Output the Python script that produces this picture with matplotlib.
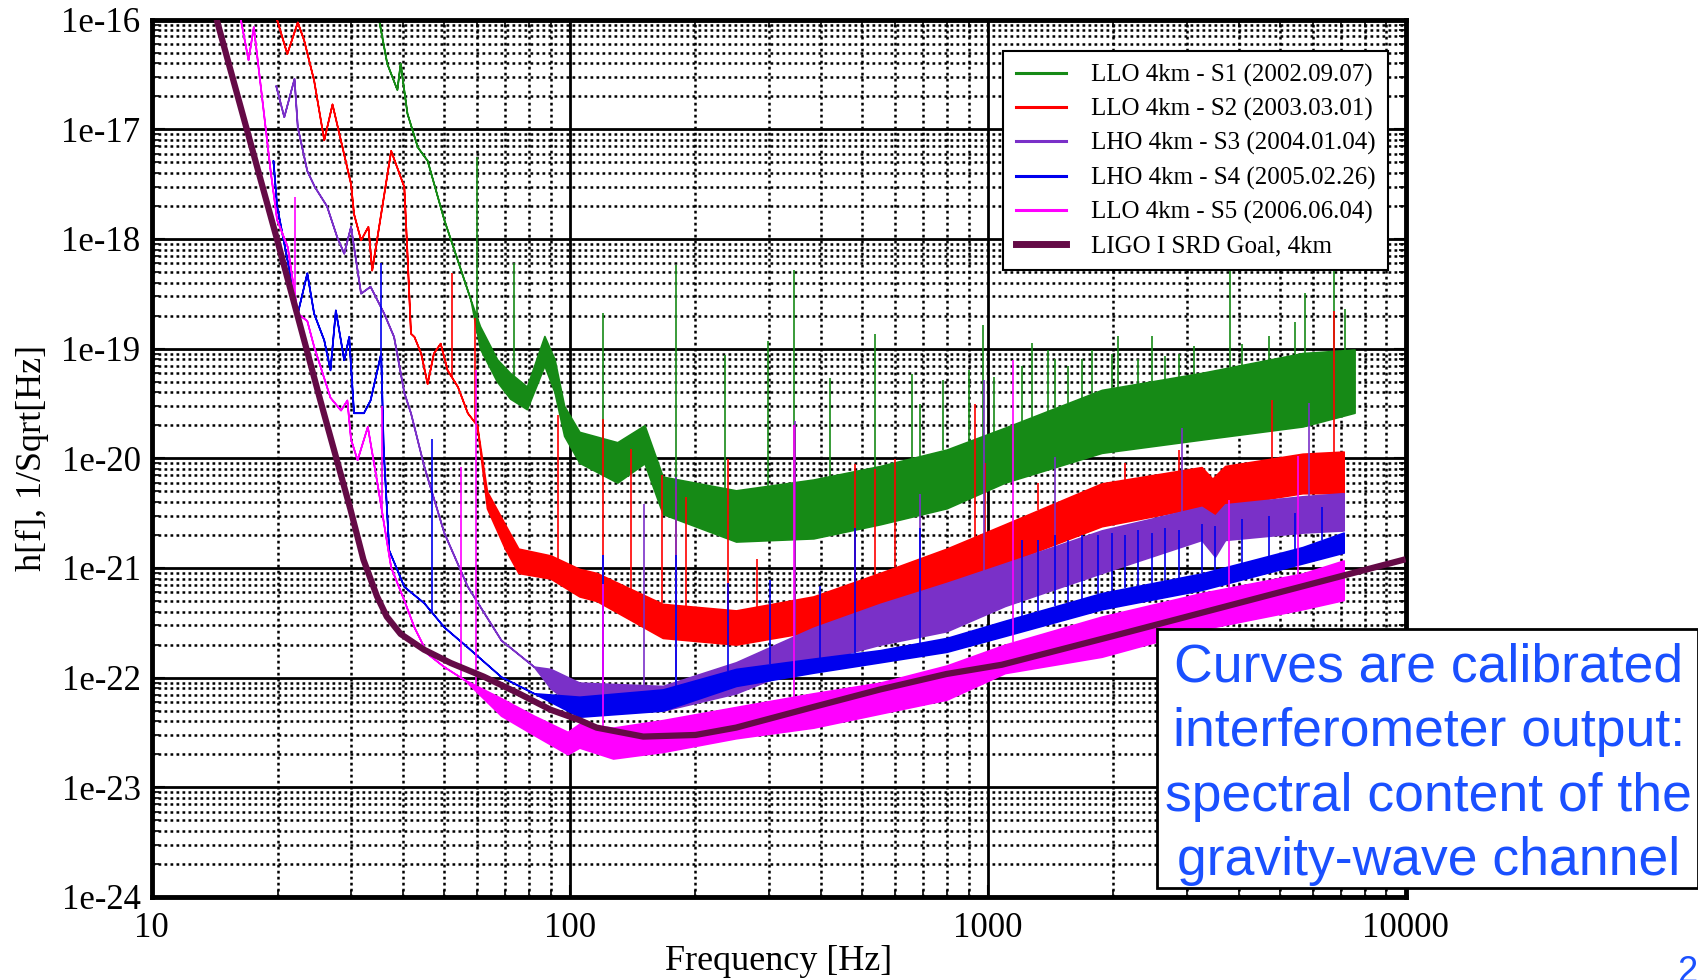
import numpy as np
import matplotlib
matplotlib.use("Agg")
import matplotlib.pyplot as plt
from matplotlib.lines import Line2D
from matplotlib.patches import Rectangle
from matplotlib.ticker import FixedLocator, FixedFormatter, LogLocator, NullFormatter

# ---- data (frequency in Hz, strain in 1/sqrt(Hz)) ----
# each run: frequency, lower and upper edge of the noise band (equal where the trace is a thin line)
s1_f = [34.9, 36.5, 38.6, 39.3, 40.8, 43.2, 45.6, 50, 57.9, 61, 67, 72, 79, 87, 92, 97, 105.5, 130, 151,
        167, 250, 383, 553, 798, 1100, 1875, 3250, 5670, 7550]
s1_hi = [1.0e-16, 4.0e-17, 2.3e-17, 4.0e-17, 1.4e-17, 6.9e-18, 5.2e-18, 1.5e-18, 2.8e-19, 1.6e-19, 8e-20, 6e-20,
         4.5e-20, 1.3e-19, 8e-20, 3e-20, 1.74e-20, 1.4e-20, 2.0e-20, 6.8e-21, 5.1e-21, 6.4e-21, 8.5e-21, 1.2e-20,
         1.9e-20, 4.2e-20, 6.0e-20, 9.1e-20, 9.8e-20]
s1_lo = [1.0e-16, 4.0e-17, 2.3e-17, 4.0e-17, 1.4e-17, 6.9e-18, 5.2e-18, 1.5e-18, 2.8e-19, 1.0e-19, 5e-20, 3.5e-20,
         2.8e-20, 7e-20, 4e-20, 1.6e-20, 9.1e-21, 6e-21, 9e-21, 3.1e-21, 1.74e-21, 1.86e-21, 2.5e-21, 3.5e-21,
         6e-21, 1.12e-20, 1.48e-20, 1.95e-20, 2.6e-20]
s1_spike_f = [60, 73.5, 120, 180, 235, 298, 344, 419, 538, 659, 690, 784, 900, 974, 1034, 1206, 1274, 1397, 1449,
              1560, 1680, 1774, 1982, 2054, 2296, 2474, 2661, 2864, 3110, 3795, 4061, 4710, 5450, 5755, 6750, 7180]
s1_spike_top = [5.6e-18, 6.0e-19, 2.1e-19, 5.8e-19, 8.8e-20, 1.18e-19, 5.2e-19, 5.4e-20, 1.36e-19, 5.9e-20, 3.1e-20,
                5.2e-20, 6.4e-20, 1.63e-19, 5.5e-20, 7e-20, 1.12e-19, 9.7e-20, 8e-20, 7e-20, 8e-20, 9.7e-20, 9e-20,
                1.29e-19, 8e-20, 1.29e-19, 8.5e-20, 9e-20, 1.05e-19, 5.2e-19, 1.1e-19, 1.3e-19, 1.76e-19, 3.2e-19,
                5.2e-19, 2.3e-19]

s2_f = [19.9, 21.05, 22.3, 23.1, 24.4, 25.8, 27.0, 29.9, 30.4, 31.6, 32.9, 33.6, 37.3, 40.1, 40.8, 41.6, 42.4, 44.0,
        45.6, 47.2, 49.0, 50.9, 53.9, 56.9, 60, 63.4, 70, 75.4, 90, 105.5, 116, 167, 250, 383, 553, 798, 1100, 1875,
        3250, 3450, 3700, 5670, 7110]
s2_hi = [1.0e-16, 4.9e-17, 9.5e-17, 6.5e-17, 2.8e-17, 8.0e-18, 1.7e-17, 3.2e-18, 1.7e-18, 9.8e-19, 1.3e-18, 5.2e-19,
         6.4e-18, 3.0e-18, 7.4e-19, 1.38e-19, 1.29e-19, 9.1e-20, 4.8e-20, 9.1e-20, 1.12e-19, 6.4e-20, 4.5e-20, 2.6e-20,
         2.0e-20, 5e-21, 2.5e-21, 1.5e-21, 1.3e-21, 9.8e-22, 9e-22, 4.7e-22, 4.1e-22, 5.5e-22, 9.0e-22, 1.5e-21,
         2.5e-21, 5.9e-21, 8.3e-21, 6.5e-21, 8.5e-21, 1.1e-20, 1.15e-20]
s2_lo = [1.0e-16, 4.9e-17, 9.5e-17, 6.5e-17, 2.8e-17, 8.0e-18, 1.7e-17, 3.2e-18, 1.7e-18, 9.8e-19, 1.3e-18, 5.2e-19,
         6.4e-18, 3.0e-18, 7.4e-19, 1.38e-19, 1.29e-19, 9.1e-20, 4.8e-20, 9.1e-20, 1.12e-19, 6.4e-20, 4.5e-20, 2.6e-20,
         2.0e-20, 3.5e-21, 1.5e-21, 9e-22, 8e-22, 5.5e-22, 5e-22, 2.3e-22, 2.0e-22, 2.65e-22, 4.1e-22, 6.3e-22,
         1.1e-21, 2.4e-21, 3.6e-21, 2.6e-21, 3.7e-21, 4.8e-21, 4.8e-21]
s2_spike_f = [52.4, 59.5, 94, 120, 140, 166, 180, 190, 239, 281, 346, 482, 538, 601, 934, 987, 1322, 2133, 2864,
              4800, 6750]
s2_spike_top = [4.9e-19, 1.9e-19, 2.5e-20, 2.3e-20, 1.22e-20, 7.1e-21, 5.5e-21, 4.4e-21, 9.8e-21, 1.2e-21, 2.0e-20,
                8.8e-21, 7.9e-21, 9.8e-21, 3.1e-20, 9.1e-21, 6e-21, 9e-21, 1.2e-20, 3.4e-20, 2.2e-19]

s3_f = [19.8, 20.7, 21.9, 22.3, 23.5, 24.5, 26.2, 27.7, 28.8, 29.9, 31.6, 33.3, 35.9, 37.9, 40.1, 41.6, 44.8, 50,
        56.9, 68.5, 82.1, 90, 105.5, 167, 250, 383, 553, 798, 1100, 1875, 3250, 3500, 3700, 5670, 7110]
s3_hi = [2.5e-17, 1.3e-17, 2.9e-17, 1.05e-17, 4.2e-18, 3.0e-18, 2.0e-18, 1.05e-18, 7.4e-19, 1.3e-18, 3.2e-19,
         3.7e-19, 2.1e-19, 1.29e-19, 4.0e-20, 2.6e-20, 8.4e-21, 2.1e-21, 6.8e-22, 2.2e-22, 1.26e-22, 1.2e-22, 9.0e-23,
         8.4e-23, 1.38e-22, 2.85e-22, 4.7e-22, 7.3e-22, 1.1e-21, 2.2e-21, 3.6e-21, 3.0e-21, 3.8e-21, 4.5e-21, 4.8e-21]
s3_lo = [2.5e-17, 1.3e-17, 2.9e-17, 1.05e-17, 4.2e-18, 3.0e-18, 2.0e-18, 1.05e-18, 7.4e-19, 1.3e-18, 3.2e-19,
         3.7e-19, 2.1e-19, 1.29e-19, 4.0e-20, 2.6e-20, 8.4e-21, 2.1e-21, 6.8e-22, 2.2e-22, 1.26e-22, 8e-23, 5.0e-23,
         5.0e-23, 7.2e-23, 1.38e-22, 2.0e-22, 2.65e-22, 4.5e-22, 9e-22, 1.8e-21, 1.27e-21, 1.8e-21, 2.1e-21, 2.2e-21]
s3_spike_f = [120, 151, 180, 346, 690, 978, 1449, 2916, 5870]
s3_spike_top = [1.3e-21, 3.8e-21, 6.8e-21, 2.2e-20, 4.75e-21, 5.2e-20, 1.03e-20, 1.9e-20, 3.2e-20]

s4_f = [19.5, 19.9, 22.3, 23.5, 24.4, 25.8, 26.7, 27.5, 28.8, 29.6, 30.4, 32.1, 33.3, 35.3, 35.8, 36.9, 40.1, 44.8,
        50, 56.9, 68.5, 82.1, 105.5, 167, 250, 383, 553, 798, 1100, 1875, 3250, 5670, 7110]
s4_hi = [5.2e-18, 2.0e-18, 2.1e-19, 4.9e-19, 2.1e-19, 1.2e-19, 6.4e-20, 2.25e-19, 7.9e-20, 1.29e-19, 2.6e-20, 2.6e-20,
         3.4e-20, 9.1e-20, 1.2e-20, 1.46e-21, 6.8e-22, 4.8e-22, 2.9e-22, 1.9e-22, 1.02e-22, 7.2e-23, 6.7e-23, 7.8e-23,
         1.2e-22, 1.49e-22, 1.78e-22, 2.3e-22, 3.3e-22, 5.9e-22, 8.9e-22, 1.55e-21, 2.1e-21]
s4_lo = [5.2e-18, 2.0e-18, 2.1e-19, 4.9e-19, 2.1e-19, 1.2e-19, 6.4e-20, 2.25e-19, 7.9e-20, 1.29e-19, 2.6e-20, 2.6e-20,
         3.4e-20, 9.1e-20, 1.2e-20, 1.46e-21, 6.8e-22, 4.8e-22, 2.9e-22, 1.9e-22, 1.02e-22, 7.2e-23, 4.4e-23, 5.0e-23,
         8.4e-23, 1.11e-22, 1.38e-22, 1.72e-22, 2.4e-22, 4.2e-22, 6.3e-22, 1.1e-21, 1.38e-21]
s4_spike_f = [35.3, 46.9, 120, 180, 239, 301, 397, 482, 690, 1206, 1322, 1449, 1560, 1680, 1841, 1982, 2133, 2296,
              2472, 2661, 2864, 3258, 3507, 4061, 4710, 5450, 6310]
s4_spike_top = [6.0e-19, 1.5e-20, 1.3e-21, 1.3e-21, 7.3e-22, 7.8e-22, 6.8e-22, 2.3e-21, 2.3e-21, 1.8e-21, 1.8e-21,
                2.0e-21, 1.8e-21, 2.0e-21, 2.0e-21, 2.1e-21, 2.0e-21, 2.2e-21, 2.1e-21, 2.3e-21, 2.2e-21, 2.5e-21,
                2.4e-21, 2.8e-21, 3.0e-21, 3.2e-21, 3.6e-21]

s5_f = [16.3, 17.0, 17.5, 18.4, 19.2, 19.9, 21.1, 22.3, 23.5, 24.4, 26.7, 28.3, 29.3, 29.9, 31.0, 32.8, 34.6, 37.3,
        40.1, 42.4, 45.6, 50, 55.9, 68.5, 82.1, 98.9, 105.5, 127, 167, 250, 383, 553, 798, 1100, 1875, 3250, 5670, 7110]
s5_hi = [1.0e-16, 4.3e-17, 8.6e-17, 1.7e-17, 4.2e-18, 1.5e-18, 8.5e-19, 2.1e-19, 1.8e-19, 1.05e-19, 3.6e-20, 2.75e-20,
         3.4e-20, 1.5e-20, 9.7e-21, 1.95e-20, 5.9e-21, 1.02e-21, 5.1e-22, 2.9e-22, 1.66e-22, 1.26e-22, 9.6e-23,
         6.5e-23, 4.5e-23, 3.2e-23, 3.8e-23, 3.5e-23, 4.1e-23, 5.4e-23, 7.2e-23, 9.0e-23, 1.29e-22, 2.0e-22, 3.6e-22,
         5.9e-22, 8.9e-22, 1.17e-21]
s5_lo = [1.0e-16, 4.3e-17, 8.6e-17, 1.7e-17, 4.2e-18, 1.5e-18, 8.5e-19, 2.1e-19, 1.8e-19, 1.05e-19, 3.6e-20, 2.75e-20,
         3.4e-20, 1.5e-20, 9.7e-21, 1.95e-20, 5.9e-21, 1.02e-21, 5.1e-22, 2.9e-22, 1.66e-22, 1.26e-22, 9.6e-23,
         4.5e-23, 3.0e-23, 2.0e-23, 2.3e-23, 1.83e-23, 2.1e-23, 2.8e-23, 3.5e-23, 4.7e-23, 6.3e-23, 1.1e-22, 1.55e-22,
         2.75e-22, 4.2e-22, 5.1e-22]
s5_spike_f = [22.0, 35.5, 54.9, 59.6, 120, 344, 1150, 3776, 5540]
s5_spike_top = [2.4e-18, 3.0e-20, 8.4e-21, 6.4e-20, 7.2e-22, 2.0e-20, 7.9e-20, 4.2e-21, 1.04e-20]

goal_f = [14.3, 20.0, 25.3, 29.9, 32.1, 34.6, 36.5, 39.4, 44.8, 51.9, 62.3, 75.4, 90, 105.5, 116, 150, 200, 250,
          383, 553, 798, 1081, 2000, 5000, 10000]
goal_h = [1.0e-16, 9.5e-19, 3.4e-20, 3.4e-21, 1.19e-21, 5.5e-22, 3.6e-22, 2.5e-22, 1.8e-22, 1.36e-22, 1.02e-22,
          7.2e-23, 5.1e-23, 4.1e-23, 3.5e-23, 2.9e-23, 3.0e-23, 3.5e-23, 5.4e-23, 7.8e-23, 1.08e-22, 1.31e-22,
          2.4e-22, 6.0e-22, 1.2e-21]

run_labels = ["LLO 4km - S1 (2002.09.07)", "LLO 4km - S2 (2003.03.01)", "LHO 4km - S3 (2004.01.04)",
              "LHO 4km - S4 (2005.02.26)", "LLO 4km - S5 (2006.06.04)"]
goal_label = "LIGO I SRD Goal, 4km"
run_colors = ["#168a16", "#ff0000", "#7a30c8", "#0000ee", "#ff00ff"]
goal_color = "#640a46"

x_ticks = [10, 100, 1000, 10000]
x_tick_labels = ["10", "100", "1000", "10000"]
y_ticks = [1e-24, 1e-23, 1e-22, 1e-21, 1e-20, 1e-19, 1e-18, 1e-17, 1e-16]
y_tick_labels = ["1e-24", "1e-23", "1e-22", "1e-21", "1e-20", "1e-19", "1e-18", "1e-17", "1e-16"]

note_text = "Curves are calibrated\ninterferometer output:\nspectral content of the\ngravity-wave channel"

plt.rcParams["font.family"] = ["Liberation Serif", "DejaVu Serif"]

fig = plt.figure(figsize=(16.99, 9.80), dpi=100)
ax = fig.add_axes([0.0893, 0.0847, 0.7380, 0.8954])
ax.set_xscale("log")
ax.set_yscale("log")

runs = [
    (s1_f, s1_lo, s1_hi, s1_spike_f, s1_spike_top),
    (s2_f, s2_lo, s2_hi, s2_spike_f, s2_spike_top),
    (s3_f, s3_lo, s3_hi, s3_spike_f, s3_spike_top),
    (s4_f, s4_lo, s4_hi, s4_spike_f, s4_spike_top),
    (s5_f, s5_lo, s5_hi, s5_spike_f, s5_spike_top),
]
for i, (f, lo, hi, sf, st) in enumerate(runs):
    c = run_colors[i]
    ax.fill_between(f, lo, hi, color=c, lw=1.2, zorder=2 + i)
    # spikes start from the top of the band at that frequency
    base = 10 ** np.interp(np.log10(sf), np.log10(f), np.log10(hi))
    ax.vlines(sf, base, st, color=c, lw=1.2, zorder=2 + i)

ax.plot(goal_f, goal_h, color=goal_color, lw=4.5, zorder=8, solid_capstyle="butt")

ax.set_xlim(10, 10000)
ax.set_ylim(1e-24, 1e-16)

ax.xaxis.set_major_locator(FixedLocator(x_ticks))
ax.xaxis.set_major_formatter(FixedFormatter(x_tick_labels))
ax.xaxis.set_minor_locator(LogLocator(base=10, subs=np.arange(2, 10), numticks=20))
ax.xaxis.set_minor_formatter(NullFormatter())
ax.yaxis.set_major_locator(FixedLocator(y_ticks))
ax.yaxis.set_major_formatter(FixedFormatter(y_tick_labels))
ax.yaxis.set_minor_locator(LogLocator(base=10, subs=np.arange(2, 10), numticks=20))
ax.yaxis.set_minor_formatter(NullFormatter())

ax.set_axisbelow(True)
ax.grid(which="major", color="black", lw=2.0, ls="-")
ax.grid(which="minor", color="black", lw=1.8, ls=(0, (1.1, 1.3)))
for s in ax.spines.values():
    s.set_linewidth(3.5)

ax.tick_params(which="both", direction="in", top=True, right=True, labelsize=25)
ax.tick_params(which="major", length=9, width=1.5)
ax.tick_params(which="minor", length=5, width=1.2)
ax.tick_params(axis="x", pad=11)
ax.tick_params(axis="y", pad=8)

ax.set_xlabel("Frequency [Hz]", fontsize=26)
ax.xaxis.set_label_coords(0.5, -0.055)
ax.set_ylabel("h[f], 1/Sqrt[Hz]", fontsize=26)
ax.yaxis.set_label_coords(-0.082, 0.5)

handles = [Line2D([], [], color=c, lw=2.2) for c in run_colors]
handles.append(Line2D([], [], color=goal_color, lw=5))
leg = ax.legend(handles, run_labels + [goal_label], loc="upper right", bbox_to_anchor=(0.986, 0.964),
                fontsize=18, frameon=True, fancybox=False, edgecolor="black", framealpha=1,
                handlelength=2.0, handletextpad=1.0, labelspacing=0.45, borderpad=0.5, borderaxespad=0)
leg.get_frame().set_linewidth(1.5)
leg.set_zorder(20)

# annotation box on the right
fig.add_artist(Rectangle((1157 / 1699, 1 - 888 / 980), 541 / 1699, 259 / 980, transform=fig.transFigure,
                         facecolor="white", edgecolor="black", lw=2, zorder=30))
fig.text(0.841, 0.220, note_text, ha="center", va="center", ma="center", color="#1a50ff",
         fontsize=38.5, family=["Liberation Sans", "DejaVu Sans"], linespacing=1.37, zorder=31)
fig.text(0.987, 0.0255, "24", ha="left", va="top", color="#1a50ff", fontsize=26,
         family=["Liberation Sans", "DejaVu Sans"])

fig.savefig("out.png", dpi=100)
